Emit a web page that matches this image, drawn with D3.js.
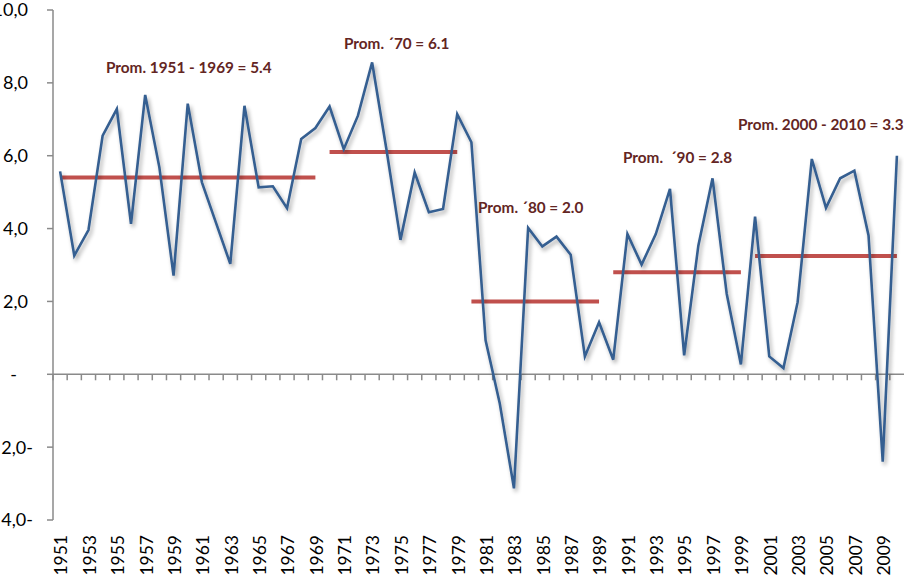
<!DOCTYPE html>
<html>
<head>
<meta charset="utf-8">
<script src="https://cdn.jsdelivr.net/npm/d3@7"></script>
<style>
  html, body { margin: 0; padding: 0; background: #fff; }
  svg { display: block; }
</style>
</head>
<body>
<svg id="chart" width="904" height="580"></svg>
<script>
// ---- data ----
const years = d3.range(1951, 2011);
const growth = [
  5.57, 3.26, 3.96, 6.55, 7.28, 4.13, 7.67, 5.68, 2.71, 7.43,
  5.27, 4.15, 3.03, 7.37, 5.13, 5.16, 4.56, 6.46, 6.76, 7.35,
  6.18, 7.10, 8.56, 6.20, 3.69, 5.54, 4.45, 4.54, 7.14, 6.37,
  0.93, -0.80, -3.13, 4.02, 3.51, 3.78, 3.28, 0.49, 1.43, 0.40,
  3.85, 3.01, 3.85, 5.09, 0.52, 3.53, 5.38, 2.21, 0.27, 4.33,
  0.49, 0.17, 1.98, 5.91, 4.57, 5.38, 5.59, 3.81, -2.40, 6.00
];
const periodStart = [1951, 1970, 1980, 1990, 2000];
const periodEnd   = [1969, 1979, 1989, 1999, 2010];
const periodAvg   = [5.4, 6.1, 2.0, 2.8, 3.25];
const periodLabels = [
  "Prom. 1951 - 1969 = 5.4",
  "Prom. \u00B470 = 6.1",
  "Prom. \u00B480 = 2.0",
  "Prom.  \u00B490 = 2.8",
  "Prom. 2000 - 2010 = 3.3"
];
const yTickValues = [-4, -2, 0, 2, 4, 6, 8, 10];
const yTickLabels = ["4,0-", "2,0-", "-", "2,0", "4,0", "6,0", "8,0", "10,0"];

// ---- layout ----
const labelPos = [[106, 73], [344, 49], [478, 213], [623, 163], [738, 130]];
const svg = d3.select("#chart");
const x = d3.scaleBand().domain(years).range([53, 904]).padding(0);
const y = d3.scaleLinear().domain([-4, 10]).range([520, 10]);
const cx = d => x(d) + x.bandwidth() / 2;
const axisColor = "#8a8a8a";
const fontFam = "Lato, 'Open Sans', sans-serif";

// shadow filter
const defs = svg.append("defs");
const f = defs.append("filter").attr("id", "shadow")
  .attr("x", "-10%").attr("y", "-10%").attr("width", "120%").attr("height", "120%");
f.append("feGaussianBlur").attr("in", "SourceAlpha").attr("stdDeviation", 2).attr("result", "b");
f.append("feOffset").attr("in", "b").attr("dx", 2).attr("dy", 3).attr("result", "o");
f.append("feComponentTransfer").attr("in", "o").attr("result", "s")
  .append("feFuncA").attr("type", "linear").attr("slope", 0.35);
const m = f.append("feMerge");
m.append("feMergeNode").attr("in", "s");
m.append("feMergeNode").attr("in", "SourceGraphic");

// y axis
const yAxis = svg.append("g");
yAxis.append("line").attr("x1", 53).attr("x2", 53).attr("y1", y(10)).attr("y2", y(-4))
  .attr("stroke", axisColor).attr("stroke-width", 1.5);
yAxis.selectAll("line.t").data(yTickValues).join("line").attr("class", "t")
  .attr("x1", 47).attr("x2", 53).attr("y1", d => y(d)).attr("y2", d => y(d))
  .attr("stroke", axisColor).attr("stroke-width", 1.5);
yAxis.selectAll("text").data(yTickValues).join("text")
  .attr("x", (d, i) => d < 0 ? 33 : (d === 0 ? 17 : 28))
  .attr("y", d => y(d)).attr("dy", "0.36em")
  .attr("text-anchor", "end")
  .attr("font-family", fontFam).attr("font-size", "18px").attr("fill", "#000")
  .text((d, i) => yTickLabels[i]);

// x axis at zero
const xAxis = svg.append("g");
xAxis.append("line").attr("x1", 53).attr("x2", 904).attr("y1", y(0)).attr("y2", y(0))
  .attr("stroke", axisColor).attr("stroke-width", 1.5);
xAxis.selectAll("line.t").data(years).join("line").attr("class", "t")
  .attr("x1", d => x(d)).attr("x2", d => x(d))
  .attr("y1", y(0)).attr("y2", y(0) + 6)
  .attr("stroke", axisColor).attr("stroke-width", 1.5);
xAxis.selectAll("text").data(years.filter((d, i) => i % 2 === 0)).join("text")
  .attr("transform", d => `translate(${cx(d) + 1},535) rotate(-90)`)
  .attr("dy", "0.36em").attr("text-anchor", "end")
  .attr("font-family", fontFam).attr("font-size", "17.5px").attr("fill", "#000")
  .text(d => d);

// average lines
svg.append("g").selectAll("line").data(periodAvg).join("line")
  .attr("x1", (d, i) => cx(periodStart[i])).attr("x2", (d, i) => cx(periodEnd[i]))
  .attr("y1", d => y(d)).attr("y2", d => y(d))
  .attr("stroke", "#C0504D").attr("stroke-width", 4);

// series line
const line = d3.line().x((d, i) => cx(years[i])).y(d => y(d));
svg.append("path").datum(growth)
  .attr("d", line).attr("fill", "none")
  .attr("stroke", "#365F91").attr("stroke-width", 2.6)
  .attr("stroke-linejoin", "miter")
  .attr("filter", "url(#shadow)");

// annotations
svg.append("g").selectAll("text").data(periodLabels).join("text")
  .attr("x", (d, i) => labelPos[i][0]).attr("y", (d, i) => labelPos[i][1])
  .attr("font-family", fontFam).attr("font-weight", "bold").attr("font-size", "15.3px")
  .attr("fill", "#632523").attr("xml:space", "preserve").style("white-space", "pre")
  .text(d => d);
</script>
</body>
</html>
